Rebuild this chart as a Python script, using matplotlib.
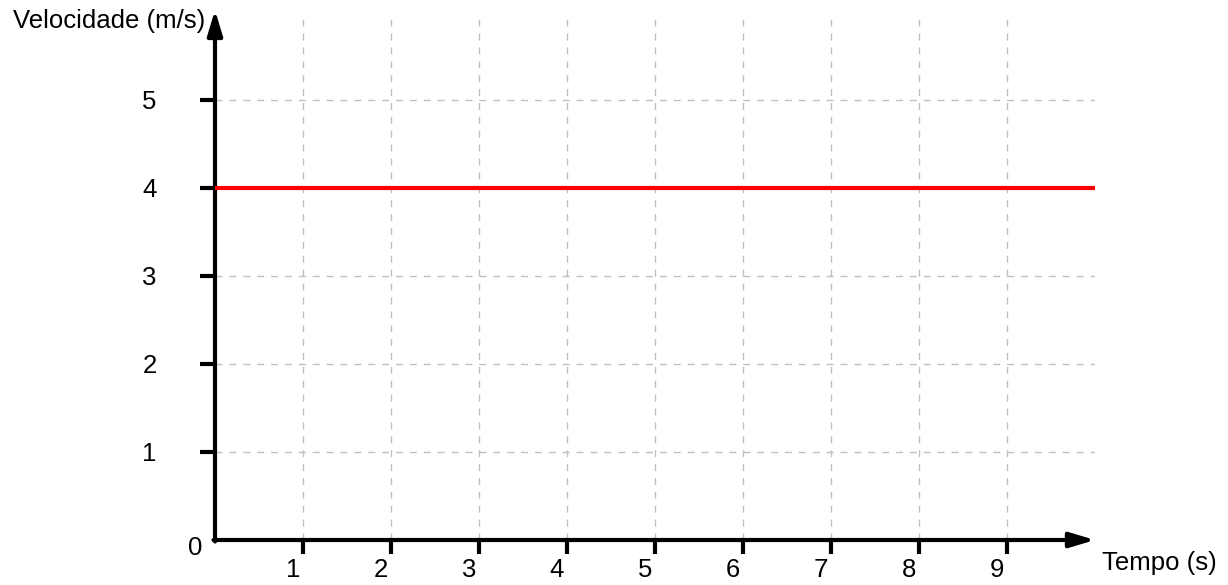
import numpy as np
import matplotlib.pyplot as plt
from matplotlib.transforms import ScaledTranslation

plt.rcParams['font.family'] = ['Liberation Sans', 'DejaVu Sans']

# dados
tempo = [0, 10]
velocidade = [4, 4]
xticks = [1, 2, 3, 4, 5, 6, 7, 8, 9]
yticks = [1, 2, 3, 4, 5]

fs = 18.5

fig = plt.figure(figsize=(12.28, 5.85), dpi=100)
ax = fig.add_axes([215 / 1228, 45 / 585, 880 / 1228, 523 / 585])
ax.set_xlim(0, 10)
ax.set_ylim(0, 5.94)

for s in ax.spines.values():
    s.set_visible(False)

ax.grid(True, color='#c0c0c0', linestyle=(0, (5, 5)), linewidth=1.0)
ax.set_xticks(xticks)
ax.set_yticks(yticks)
ax.tick_params(axis='x', direction='out', length=10, width=3, pad=3, labelsize=fs)
ax.tick_params(axis='y', direction='out', length=11, width=3, pad=31, labelsize=fs)

# rótulos do eixo x deslocados para a esquerda
off = ScaledTranslation(-10 / 100, 0, fig.dpi_scale_trans)
for lab in ax.get_xticklabels():
    lab.set_transform(lab.get_transform() + off)

# eixos com setas
seta = dict(arrowstyle='-|>,head_length=1.5,head_width=0.45', color='black', lw=3,
            shrinkA=0, shrinkB=0)
ax.annotate('', xy=(10, 0), xytext=(-0.017, 0), annotation_clip=False, arrowprops=seta)
ax.annotate('', xy=(0, 6.02), xytext=(0, -0.017), annotation_clip=False, arrowprops=seta)

ax.plot(tempo, velocidade, color='#ff0000', lw=3, solid_capstyle='butt', clip_on=False, zorder=3)

ax.text(-0.22, -0.09, '0', ha='center', va='center', fontsize=fs)
ax.text(-0.11, 5.89, 'Velocidade (m/s)', ha='right', va='center', fontsize=fs)
ax.text(10.08, -0.26, 'Tempo (s)', ha='left', va='center', fontsize=fs)

fig.savefig('out.png', dpi=100)
